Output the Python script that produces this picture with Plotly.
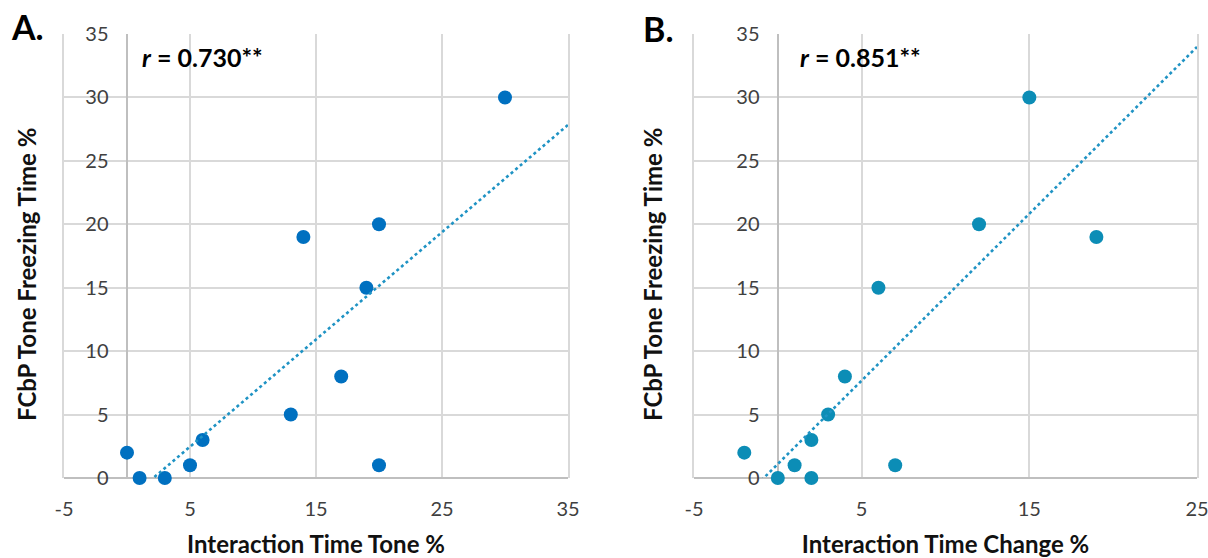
import numpy as np
import plotly.graph_objects as go

# Panel A data
a_x = [0, 1, 3, 5, 6, 13, 17, 19, 20, 14, 20, 30]
a_y = [2, 0, 0, 1, 3, 5, 8, 15, 1, 19, 20, 30]
# Panel B data
b_x = [-2, 0, 1, 2, 2, 3, 4, 6, 7, 12, 15, 19]
b_y = [2, 0, 1, 3, 0, 5, 8, 15, 1, 20, 30, 19]

a_r_label = "<i>r</i> = 0.730**"
b_r_label = "<i>r</i> = 0.851**"
a_x_title = "Interaction Time Tone %"
b_x_title = "Interaction Time Change %"
y_title = "FCbP Tone Freezing Time %"
y_ticks = [0, 5, 10, 15, 20, 25, 30, 35]
a_x_ticks = [-5, 5, 15, 25, 35]
b_x_ticks = [-5, 5, 15, 25]

W, H = 1208, 558
FONT = "Lato"
GRID = "#D9D9D9"
AXIS = "#BFBFBF"
TICKC = "#404040"
TITLEC = "#111111"

def fit(x, y, x0, x1):
    m, c = np.polyfit(x, y, 1)
    xs = np.array([x0, x1])
    return xs, m * xs + c

fig = go.Figure()

# Panel A
tx, ty = fit(a_x, a_y, min(a_x), 35)
fig.add_trace(go.Scatter(x=tx, y=ty, mode="lines", xaxis="x", yaxis="y3",
                         line=dict(color="#1F93C4", width=2.6, dash="dot"),
                         showlegend=False, hoverinfo="skip"))
fig.add_trace(go.Scatter(x=a_x, y=a_y, mode="markers", xaxis="x", yaxis="y",
                         marker=dict(color="#0070C0", size=14),
                         cliponaxis=False, showlegend=False))
# Panel B
tx, ty = fit(b_x, b_y, min(b_x), 25)
fig.add_trace(go.Scatter(x=tx, y=ty, mode="lines", xaxis="x2", yaxis="y4",
                         line=dict(color="#1F93C4", width=2.6, dash="dot"),
                         showlegend=False, hoverinfo="skip"))
fig.add_trace(go.Scatter(x=b_x, y=b_y, mode="markers", xaxis="x2", yaxis="y2",
                         marker=dict(color="#0C8DB6", size=14),
                         cliponaxis=False, showlegend=False))

ydom = [1 - 478 / H, 1 - 34 / H]

def xaxis(dom, rng, ticks, title):
    return dict(domain=dom, range=rng, tickmode="array", tickvals=ticks,
                ticktext=[str(t) for t in ticks], automargin=False,
                showgrid=True, gridcolor=GRID, gridwidth=2,
                zeroline=True, zerolinecolor=AXIS, zerolinewidth=2,
                showline=False, ticks="", ticklabelstandoff=17,
                ticklabeloverflow="allow",
                tickfont=dict(family=FONT, size=20, color=TICKC),
                title=dict(text=title, standoff=23,
                           font=dict(family=FONT, size=24, color=TITLEC, weight="bold")),
                fixedrange=True)

def yaxis(pos):
    return dict(domain=ydom, range=[0, 35], tickmode="array", tickvals=y_ticks,
                ticktext=[str(t) for t in y_ticks], automargin=False,
                anchor="free", position=pos,
                showgrid=True, gridcolor=GRID, gridwidth=2,
                zeroline=True, zerolinecolor=AXIS, zerolinewidth=2,
                showline=False, ticks="", ticklabelstandoff=19,
                tickfont=dict(family=FONT, size=20, color=TICKC),
                fixedrange=True)

def frame(over, anchor):
    return dict(overlaying=over, anchor=anchor, domain=ydom, range=[0, 35],
                showline=True, mirror=True, linecolor=GRID, linewidth=2,
                showgrid=False, zeroline=False, showticklabels=False, ticks="",
                automargin=False, fixedrange=True)

fig.update_layout(
    width=W, height=H,
    margin=dict(l=0, r=0, t=0, b=0),
    paper_bgcolor="white", plot_bgcolor="white",
    xaxis=xaxis([64 / W, 568 / W], [-5, 35], a_x_ticks, a_x_title),
    yaxis=yaxis(127.5 / W),
    xaxis2=xaxis([694 / W, 1197 / W], [-5, 25], b_x_ticks, b_x_title),
    yaxis2=yaxis(778.5 / W),
    yaxis3=frame("y", "x"),
    yaxis4=frame("y2", "x2"),
)

annots = [
    dict(text="<b>A.</b>", x=9 / W, y=1 - 27 / H, xanchor="left", yanchor="middle",
         font=dict(family=FONT, size=34, color="black")),
    dict(text="<b>B.</b>", x=641 / W, y=1 - 29 / H, xanchor="left", yanchor="middle",
         font=dict(family=FONT, size=34, color="black")),
    dict(text="<b>" + a_r_label + "</b>", x=1.0, y=33.2, xref="x", yref="y",
         xanchor="left", yanchor="middle",
         font=dict(family=FONT, size=25, color="black")),
    dict(text="<b>" + b_r_label + "</b>", x=1.2, y=33.2, xref="x2", yref="y2",
         xanchor="left", yanchor="middle",
         font=dict(family=FONT, size=25, color="black")),
    dict(text="<b>" + y_title + "</b>", x=27 / W, y=1 - 275 / H, textangle=-90,
         xanchor="center", yanchor="middle",
         font=dict(family=FONT, size=24, color=TITLEC)),
    dict(text="<b>" + y_title + "</b>", x=653 / W, y=1 - 275 / H, textangle=-90,
         xanchor="center", yanchor="middle",
         font=dict(family=FONT, size=24, color=TITLEC)),
]
for a in annots:
    a.setdefault("xref", "paper")
    a.setdefault("yref", "paper")
    a["showarrow"] = False
fig.update_layout(annotations=annots)

fig.write_html("out.html")
